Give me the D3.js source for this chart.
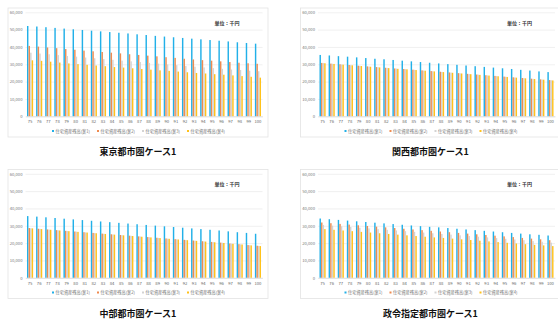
<!DOCTYPE html>
<html>
<head>
<meta charset="utf-8">
<script src="https://cdn.jsdelivr.net/npm/d3@7"></script>
<style>
body { margin: 0; background: #fff; }
text { font-family: "Noto Sans CJK JP", "Noto Sans", sans-serif; }
</style>
</head>
<body>
<div id="chart"></div>
<script>
// categories and series
var years = ["75","76","77","78","79","80","81","82","83","84","85","86","87",
             "88","89","90","91","92","93","94","95","96","97","98","99","100"];
var seriesNames = ["住宅資産残高(案1)", "住宅資産残高(案2)", "住宅資産残高(案3)", "住宅資産残高(案4)"];
var seriesColors = ["#22b0e8", "#ef8b50", "#d3d3d3", "#ffc21a"];
var yTicks = [0, 10000, 20000, 30000, 40000, 50000, 60000];

// 東京都市圏
var tokyo1 = [52100,51800,51400,51000,50600,50200,49800,49400,49000,48600,48200,47800,47300,46900,46400,46000,45600,45200,44800,44400,44000,43600,43200,42700,42300,41900];
var tokyo2 = [40600,40200,39700,39300,38800,38400,37900,37500,37100,36700,36300,35800,35400,35000,34600,34100,33700,33200,32800,32400,32100,31700,31300,30900,30600,30300];
var tokyo3 = [36700,36200,35800,35300,34800,34400,33900,33500,33000,32600,32100,31700,31300,30800,30400,29900,29500,29000,28600,28200,27800,27400,27000,26700,26300,26000];
var tokyo4 = [32300,32000,31500,31000,30500,30100,29700,29300,28900,28400,28100,27700,27300,26900,26500,26200,25800,25400,25000,24700,24300,24000,23600,23200,22800,22300];

// 関西都市圏
var kansai1 = [35400,35100,34700,34400,34000,33600,33200,32900,32500,32100,31700,31300,30900,30500,30100,29700,29300,28900,28500,28100,27700,27300,26800,26400,25900,25500];
var kansai2 = [30800,30400,30000,29600,29200,28800,28400,28000,27600,27300,26900,26500,26100,25700,25300,24900,24500,24100,23700,23300,22900,22500,22100,21700,21300,20900];
var kansai3 = [30700,30300,29900,29500,29100,28700,28300,27900,27500,27200,26800,26400,26000,25600,25200,24800,24400,24000,23600,23200,22800,22400,22000,21600,21200,20800];
var kansai4 = [30600,30200,29800,29400,29000,28600,28200,27800,27400,27100,26700,26300,25900,25500,25100,24700,24300,23900,23500,23100,22700,22300,21900,21500,21100,20700];

// 中部都市圏
var chubu1 = [35600,35300,34900,34500,34100,33700,33300,32900,32500,32100,31700,31300,30900,30500,30100,29700,29300,28900,28500,28100,27700,27300,26800,26300,25900,25400];
var chubu2 = [28700,28300,27900,27500,27100,26700,26300,25900,25500,25100,24700,24300,23900,23500,23100,22700,22300,21900,21500,21100,20700,20300,19800,19400,18900,18500];
var chubu3 = [28600,28200,27800,27400,27000,26600,26200,25800,25400,25000,24600,24200,23800,23400,23000,22600,22200,21800,21400,21000,20600,20200,19700,19300,18800,18400];
var chubu4 = [28500,28100,27700,27300,26900,26500,26100,25700,25300,24900,24500,24100,23700,23300,22900,22500,22100,21700,21300,20900,20500,20100,19600,19200,18700,18300];

// 政令指定都市圏
var seirei1 = [34200,33800,33400,33000,32600,32200,31800,31400,31000,30600,30200,29800,29400,29100,28700,28300,27900,27500,27100,26700,26300,25900,25500,25100,24800,24400];
var seirei2 = [31900,31500,31100,30700,30300,29900,29500,29100,28700,28300,27900,27500,27100,26700,26300,25900,25500,25100,24700,24300,23900,23500,23000,22600,22200,21700];
var seirei3 = [30500,30100,29700,29300,28900,28500,28100,27700,27300,26900,26500,26100,25700,25300,24900,24500,24100,23700,23300,22900,22500,22100,21700,21200,20800,20300];
var seirei4 = [28100,27700,27300,26900,26500,26100,25700,25300,24900,24500,24100,23700,23300,23000,22600,22200,21800,21400,21000,20600,20200,19800,19400,19000,18700,18300];

var svg = d3.select("#chart")
    .append("svg")
    .attr("width", 558)
    .attr("height", 320);

drawPanel(8, 8, "東京都市圏ケース1", [tokyo1, tokyo2, tokyo3, tokyo4]);
drawPanel(300.5, 8, "関西都市圏ケース1", [kansai1, kansai2, kansai3, kansai4]);
drawPanel(8, 169.5, "中部都市圏ケース1", [chubu1, chubu2, chubu3, chubu4]);
drawPanel(300.5, 169.5, "政令指定都市圏ケース1", [seirei1, seirei2, seirei3, seirei4]);

function drawPanel(fx, fy, title, series) {
    var plotLeft = 17.5, plotTop = 4.3,
        plotW = 237, plotH = 104;

    var g = svg.append("g")
        .attr("transform", "translate(" + fx + "," + fy + ")");

    // chart frame
    g.append("rect")
        .attr("width", 260)
        .attr("height", 129)
        .attr("fill", "#fff")
        .attr("stroke", "#e3e3e3")
        .attr("stroke-width", 0.8);

    var plot = g.append("g")
        .attr("transform", "translate(" + plotLeft + "," + plotTop + ")");

    var x = d3.scaleBand()
        .domain(years)
        .range([0, plotW])
        .paddingInner(0.3)
        .paddingOuter(0.15);

    var xs = d3.scaleBand()
        .domain(d3.range(series.length))
        .range([0, x.bandwidth()])
        .padding(0.08);

    var y = d3.scaleLinear()
        .domain([0, 60000])
        .range([plotH, 0]);

    // gridlines + y labels
    var yAxis = plot.append("g")
        .call(d3.axisLeft(y).tickValues(yTicks).tickSize(-plotW).tickFormat(d3.format(",")));
    yAxis.select(".domain").remove();
    yAxis.selectAll(".tick line").attr("stroke", "#e6e6e6").attr("stroke-width", 0.6);
    yAxis.selectAll(".tick text")
        .attr("x", -3)
        .attr("fill", "#777")
        .style("font-size", "4.2px");

    // bars
    series.forEach(function (vals, si) {
        plot.append("g").selectAll("rect")
            .data(vals)
            .enter()
            .append("rect")
            .attr("x", function (d, i) { return x(years[i]) + xs(si); })
            .attr("y", function (d) { return y(d); })
            .attr("width", xs.bandwidth())
            .attr("height", function (d) { return plotH - y(d); })
            .attr("fill", seriesColors[si]);
    });

    // x axis
    var xAxis = plot.append("g")
        .attr("transform", "translate(0," + plotH + ")")
        .call(d3.axisBottom(x).tickSize(0).tickPadding(4));
    xAxis.select(".domain").attr("stroke", "#d0d0d0").attr("stroke-width", 0.6);
    xAxis.selectAll(".tick text")
        .attr("fill", "#666")
        .style("font-size", "4.2px");

    // legend
    var legend = g.append("g")
        .attr("transform", "translate(45,123)");
    seriesNames.forEach(function (name, i) {
        legend.append("rect")
            .attr("x", i * 45 - 1)
            .attr("y", -1)
            .attr("width", 2)
            .attr("height", 2)
            .attr("fill", seriesColors[i]);
        legend.append("text")
            .attr("x", i * 45 + 2.5)
            .attr("y", 1.5)
            .attr("fill", "#777")
            .style("font-size", "4.2px")
            .text(name);
    });

    // unit label
    g.append("text")
        .attr("x", 219)
        .attr("y", 16.5)
        .attr("text-anchor", "middle")
        .attr("fill", "#333")
        .style("font-size", "5px")
        .style("font-weight", "bold")
        .text("単位：千円");

    // title below the frame
    g.append("text")
        .attr("x", 130)
        .attr("y", 147.3)
        .attr("text-anchor", "middle")
        .attr("fill", "#111")
        .style("font-size", "9px")
        .style("font-weight", "bold")
        .text(title);
}
</script>
</body>
</html>
